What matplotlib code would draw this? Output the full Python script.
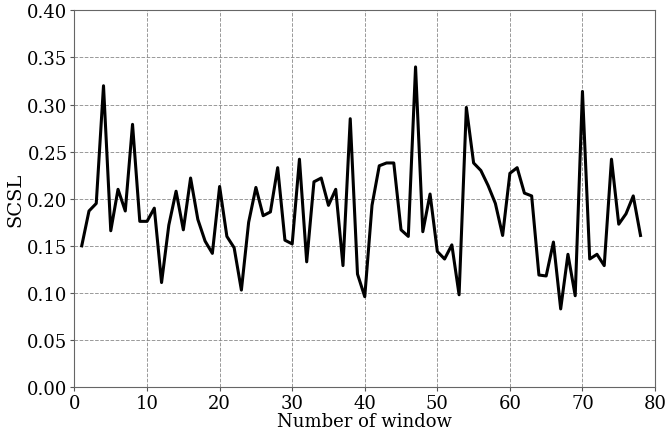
import matplotlib
matplotlib.use("Agg")
import matplotlib.pyplot as plt

windows = list(range(1, 79))
scsl = [0.150, 0.187, 0.195, 0.320, 0.166, 0.210, 0.187, 0.279, 0.176, 0.176,
        0.190, 0.111, 0.172, 0.208, 0.167, 0.222, 0.178, 0.155, 0.142, 0.213,
        0.160, 0.148, 0.103, 0.175, 0.212, 0.182, 0.186, 0.233, 0.156, 0.152,
        0.242, 0.133, 0.218, 0.222, 0.193, 0.210, 0.129, 0.285, 0.120, 0.096,
        0.193, 0.235, 0.238, 0.238, 0.167, 0.160, 0.340, 0.165, 0.205, 0.144,
        0.136, 0.151, 0.098, 0.297, 0.238, 0.230, 0.214, 0.195, 0.161, 0.227,
        0.233, 0.206, 0.203, 0.119, 0.118, 0.154, 0.083, 0.141, 0.097, 0.314,
        0.136, 0.141, 0.129, 0.242, 0.173, 0.184, 0.203, 0.161]

plt.rcParams['font.family'] = ['DejaVu Serif']

fig = plt.figure(figsize=(6.65, 4.39), dpi=100)
ax = fig.add_axes([0.112, 0.116, 0.873, 0.858])
ax.plot(windows, scsl, color='black', linewidth=2.2)
ax.set_xlim(0, 80)
ax.set_ylim(0, 0.40)
ax.set_xticks(range(0, 81, 10))
ax.set_yticks([i * 0.05 for i in range(9)])
ax.set_yticklabels([f"{i*0.05:.2f}" for i in range(9)])
ax.grid(True, linestyle='--', color='gray', linewidth=0.7, alpha=0.8)
ax.tick_params(labelsize=13, length=3, pad=2, color='#555555')
ax.set_xlabel('Number of window', fontsize=13, labelpad=0)
ax.set_ylabel('SCSL', fontsize=14, labelpad=2)
for s in ax.spines.values():
    s.set_color('#666666')
fig.savefig('out.png', dpi=100)
